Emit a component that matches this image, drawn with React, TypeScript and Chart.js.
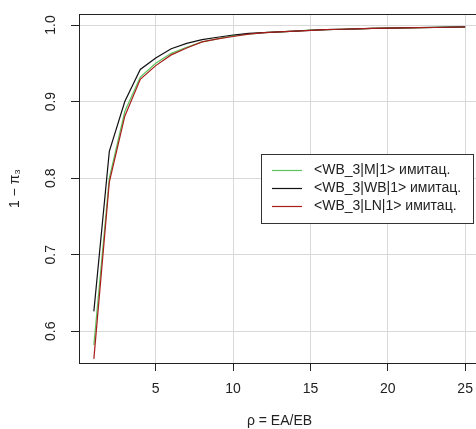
import React, { useEffect, useRef } from "react";
import { Chart, registerables } from "chart.js";

Chart.register(...registerables);

const rhoValues = [1, 2, 3, 4, 5, 6, 7, 8, 9, 10, 11, 12, 13, 14, 15, 16, 17, 18, 19, 20, 21, 22, 23, 24, 25];
const seriesM = [0.582, 0.800, 0.887, 0.932, 0.950, 0.963, 0.971, 0.978, 0.982, 0.986, 0.988, 0.990, 0.991, 0.992, 0.9935, 0.994, 0.9945, 0.995, 0.9955, 0.996, 0.9963, 0.9966, 0.9969, 0.9972, 0.9974];
const seriesWB = [0.626, 0.835, 0.900, 0.942, 0.957, 0.969, 0.976, 0.981, 0.984, 0.987, 0.989, 0.990, 0.991, 0.992, 0.993, 0.994, 0.9945, 0.995, 0.9955, 0.996, 0.9963, 0.9966, 0.9969, 0.9972, 0.9975];
const seriesLN = [0.564, 0.795, 0.881, 0.929, 0.947, 0.961, 0.970, 0.978, 0.982, 0.985, 0.988, 0.990, 0.991, 0.992, 0.993, 0.994, 0.9945, 0.995, 0.9955, 0.996, 0.9962, 0.9965, 0.9968, 0.9971, 0.9974];
const seriesLabels = ["<WB_3|M|1> имитац.", "<WB_3|WB|1> имитац.", "<WB_3|LN|1> имитац."];
const xTicks = [5, 10, 15, 20, 25];
const yTicks = [0.6, 0.7, 0.8, 0.9, 1.0];
const xTitle = "ρ = EA/EB";
const yTitle = "1 − π₃";

const FONT = "'Liberation Sans', Arial, sans-serif";
const TEXT = "#222222";

const framePlugin = {
  id: "frame",
  afterDraw(chart: any) {
    const { ctx, chartArea } = chart;
    ctx.save();
    ctx.strokeStyle = "#222222";
    ctx.lineWidth = 1;
    ctx.strokeRect(
      Math.round(chartArea.left) + 0.5,
      Math.round(chartArea.top) + 0.5,
      Math.round(chartArea.right - chartArea.left),
      Math.round(chartArea.bottom - chartArea.top)
    );
    ctx.restore();
  },
};

const legendPlugin = {
  id: "boxLegend",
  afterDraw(chart: any) {
    const { ctx } = chart;
    const bx = 261.5, by = 154.5, bw = 212, bh = 69;
    ctx.save();
    ctx.fillStyle = "#ffffff";
    ctx.fillRect(bx, by, bw, bh);
    ctx.strokeStyle = "#333333";
    ctx.lineWidth = 1;
    ctx.strokeRect(bx, by, bw, bh);
    ctx.font = `14px ${FONT}`;
    ctx.textBaseline = "middle";
    ctx.textAlign = "left";
    chart.data.datasets.forEach((ds: any, i: number) => {
      const y = 170.5 + i * 18;
      ctx.strokeStyle = ds.borderColor;
      ctx.lineWidth = 1.2;
      ctx.beginPath();
      ctx.moveTo(272, y);
      ctx.lineTo(302, y);
      ctx.stroke();
      ctx.fillStyle = TEXT;
      ctx.fillText(ds.label, 314, y);
    });
    ctx.restore();
  },
};

export default function App() {
  const ref = useRef<HTMLCanvasElement | null>(null);
  useEffect(() => {
    if (!ref.current) return;
    const mk = (ys: number[]) => rhoValues.map((x, i) => ({ x, y: ys[i] }));
    const chart = new Chart(ref.current, {
      type: "line",
      data: {
        datasets: [
          { label: seriesLabels[0], data: mk(seriesM), borderColor: "#5cc45c", borderWidth: 1.2, pointRadius: 0, tension: 0, order: 2 },
          { label: seriesLabels[1], data: mk(seriesWB), borderColor: "#111111", borderWidth: 1.2, pointRadius: 0, tension: 0, order: 1 },
          { label: seriesLabels[2], data: mk(seriesLN), borderColor: "#a81c1c", borderWidth: 1.2, pointRadius: 0, tension: 0, order: 0 },
        ],
      },
      options: {
        responsive: false,
        animation: false,
        devicePixelRatio: 1,
        layout: { padding: { top: 14, right: 10, left: 0, bottom: 0 } },
        plugins: { legend: { display: false }, tooltip: { enabled: false } },
        scales: {
          x: {
            type: "linear",
            min: 0.04,
            max: 25.96,
            afterBuildTicks: (s: any) => { s.ticks = xTicks.map((v) => ({ value: v })); },
            afterFit: (s: any) => { s.height = 66; s.paddingLeft = 0; s.paddingRight = 0; },
            ticks: { callback: (v: any) => String(v), color: TEXT, font: { size: 14, family: FONT }, padding: 10, maxRotation: 0, minRotation: 0 },
            grid: { color: "#d9d9d9", lineWidth: 1, tickColor: "#222222", tickLength: 8 },
            border: { display: false },
            title: { display: true, text: xTitle, color: TEXT, font: { size: 14, family: FONT, lineHeight: 1.1 }, padding: { top: 0, bottom: 0 } },
          },
          y: {
            type: "linear",
            min: 0.5586,
            max: 1.0144,
            afterBuildTicks: (s: any) => { s.ticks = yTicks.map((v) => ({ value: v })); },
            afterFit: (s: any) => { s.width = 79; s.paddingTop = 0; s.paddingBottom = 0; },
            ticks: { callback: (v: any) => Number(v).toFixed(1), color: TEXT, font: { size: 14, family: FONT }, padding: 10, minRotation: 90, maxRotation: 90, crossAlign: "center" },
            grid: { color: "#d9d9d9", lineWidth: 1, tickColor: "#222222", tickLength: 8 },
            border: { display: false },
            title: { display: true, text: yTitle, color: TEXT, font: { size: 14, family: FONT }, padding: { top: 6.6, bottom: 0 } },
          },
        },
      },
      plugins: [framePlugin, legendPlugin],
    } as any);
    return () => chart.destroy();
  }, []);
  return (
    <div style={{ position: "fixed", left: 0, top: 0, width: 476, height: 429, overflow: "hidden", background: "#fff" }}>
      <canvas ref={ref} width={490} height={429} style={{ display: "block", width: 490, height: 429 }} />
    </div>
  );
}
